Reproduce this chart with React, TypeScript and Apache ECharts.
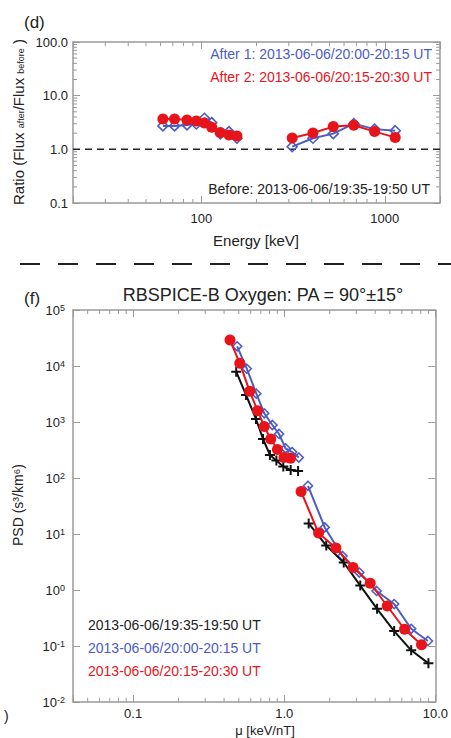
import React, { useEffect, useRef } from 'react';
import * as echarts from 'echarts';

// ---- Panel (d): flux ratio vs energy ----
const energyLow = [61.8, 71.5, 83.6, 94, 104, 114, 127, 141.6, 156.5];
const ratioAfter1Low = [2.73, 2.73, 2.85, 2.97, 3.79, 3.14, 1.94, 2.14, 1.61];
const ratioAfter2Low = [3.68, 3.68, 3.52, 3.37, 3.1, 2.58, 2.05, 1.85, 1.78];
const energyHigh = [313, 406, 524, 678, 880, 1140];
const ratioAfter1High = [1.12, 1.61, 1.96, 3.01, 2.38, 2.22];
const ratioAfter2High = [1.63, 2.02, 2.65, 2.81, 2.14, 1.67];
const ratioBeforeLevel = 1;

// ---- Panel (f): PSD vs mu ----
const muBeforeLow = [0.481, 0.559, 0.65, 0.724, 0.804, 0.887, 0.986, 1.103, 1.235];
const psdBeforeLow = [7910, 3035, 1132, 497, 258, 205, 160, 139, 133];
const muBeforeHigh = [1.451, 1.897, 2.475, 3.186, 4.115, 5.34, 6.92, 9.0];
const psdBeforeHigh = [15.4, 6.23, 3.1, 1.2, 0.461, 0.185, 0.0838, 0.049];
const muAfter1Low = [0.488, 0.565, 0.654, 0.737, 0.835, 0.924, 1.02, 1.128, 1.248];
const psdAfter1Low = [22480, 8950, 3200, 1430, 884, 611, 339, 291, 232];
const muAfter1High = [1.436, 1.854, 2.43, 3.14, 4.085, 5.34, 6.92, 8.93];
const psdAfter1High = [72.6, 13.1, 4.05, 2.05, 0.96, 0.562, 0.203, 0.123];
const muAfter2Low = [0.4375, 0.508, 0.591, 0.666, 0.737, 0.814, 0.901, 0.996, 1.1];
const psdAfter2Low = [29100, 11170, 3530, 1592, 832, 497, 323, 232, 225];
const muAfter2High = [1.292, 1.687, 2.198, 2.855, 3.705, 4.805, 6.25, 8.1];
const psdAfter2High = [57.4, 10.4, 5.62, 2.52, 1.32, 0.518, 0.199, 0.105];

// ---- minor tick values ----
const topXMinor = [30, 40, 50, 60, 70, 80, 90, 200, 300, 400, 500, 600, 700, 800, 900];
const topYMinor = [0.2, 0.3, 0.4, 0.5, 0.6, 0.7, 0.8, 0.9, 2, 3, 4, 5, 6, 7, 8, 9, 20, 30, 40, 50, 60, 70, 80, 90];
const botXMinor = [0.05, 0.06, 0.07, 0.08, 0.09, 0.2, 0.3, 0.4, 0.5, 0.6, 0.7, 0.8, 0.9, 2, 3, 4, 5, 6, 7, 8, 9];

const labelBefore = '2013-06-06/19:35-19:50 UT';
const labelAfter1 = '2013-06-06/20:00-20:15 UT';
const labelAfter2 = '2013-06-06/20:15-20:30 UT';

const BLUE = '#4b5cc4';
const RED = '#e8141c';
const BLACK = '#111111';
const FRAME = '#9a9a9a';
const TXT = '#222222';
const FONT = '"Liberation Sans", Arial, Helvetica, sans-serif';
const PLUS = 'path://M4,0H6V4H10V6H6V10H4V6H0V4H4Z';

const pairs = (xs: number[], ys: number[]) => xs.map((x, i) => [x, ys[i]]);
const isDecade = (v: number) => Math.abs(Math.log10(v) - Math.round(Math.log10(v))) < 1e-6;

function mkSeries(xs: number[], ys: number[], kind: 'red' | 'blue' | 'black', axis: number, size: number, z: number) {
  const color = kind === 'red' ? RED : kind === 'blue' ? BLUE : BLACK;
  const symbol = kind === 'red' ? 'circle' : kind === 'blue' ? 'diamond' : PLUS;
  return {
    type: 'line',
    xAxisIndex: axis,
    yAxisIndex: axis,
    data: pairs(xs, ys),
    symbol,
    symbolSize: size,
    showSymbol: true,
    lineStyle: { color, width: 2 },
    itemStyle:
      kind === 'blue'
        ? { color: 'rgba(255,255,255,0)', borderColor: color, borderWidth: 1.6 }
        : { color, borderWidth: 0 },
    z,
    silent: true,
  };
}

function minorX(values: number[], axis: number, yRef: number) {
  return {
    type: 'custom',
    xAxisIndex: axis,
    yAxisIndex: axis,
    clip: false,
    silent: true,
    data: values.map((v) => [v, yRef]),
    renderItem: (params: any, api: any) => {
      const x = api.coord([api.value(0), yRef])[0];
      const cs = params.coordSys;
      const st = { stroke: FRAME, lineWidth: 1 };
      return {
        type: 'group',
        children: [
          { type: 'line', shape: { x1: x, y1: cs.y + cs.height, x2: x, y2: cs.y + cs.height - 4 }, style: st },
          { type: 'line', shape: { x1: x, y1: cs.y, x2: x, y2: cs.y + 4 }, style: st },
        ],
      };
    },
  };
}

function minorY(values: number[], axis: number, xRef: number) {
  return {
    type: 'custom',
    xAxisIndex: axis,
    yAxisIndex: axis,
    clip: false,
    silent: true,
    data: values.map((v) => [xRef, v]),
    renderItem: (params: any, api: any) => {
      const y = api.coord([xRef, api.value(1)])[1];
      const cs = params.coordSys;
      const st = { stroke: FRAME, lineWidth: 1 };
      return {
        type: 'group',
        children: [
          { type: 'line', shape: { x1: cs.x, y1: y, x2: cs.x + 4, y2: y }, style: st },
          { type: 'line', shape: { x1: cs.x + cs.width, y1: y, x2: cs.x + cs.width - 4, y2: y }, style: st },
        ],
      };
    },
  };
}

const baseAxis = {
  type: 'log',
  logBase: 10,
  axisLine: { show: true, onZero: false, lineStyle: { color: FRAME, width: 1.5 } },
  axisTick: { show: true, inside: true, length: 7, lineStyle: { color: FRAME, width: 1 } },
  splitLine: { show: false },
  minorTick: { show: false },
};

export default function App() {
  const ref = useRef<HTMLDivElement>(null);
  useEffect(() => {
    if (!ref.current) return;
    const chart = echarts.init(ref.current, null, { renderer: 'svg' });
    const option: any = {
      animation: false,
      backgroundColor: '#ffffff',
      textStyle: { fontFamily: FONT },
      grid: [
        { left: 73, top: 42, width: 367, height: 161, containLabel: false },
        { left: 73, top: 310, width: 367, height: 392, containLabel: false },
      ],
      xAxis: [
        {
          ...baseAxis,
          gridIndex: 0,
          position: 'bottom',
          min: 20,
          max: 2000,
          axisLabel: {
            show: true,
            margin: 9,
            fontSize: 13,
            color: TXT,
            fontFamily: FONT,
            formatter: (v: number) => (isDecade(v) ? String(Math.round(v)) : ''),
          },
        },
        { ...baseAxis, gridIndex: 0, position: 'top', min: 20, max: 2000, axisLabel: { show: false } },
        {
          ...baseAxis,
          gridIndex: 1,
          position: 'bottom',
          min: 0.04,
          max: 10,
          axisLabel: {
            show: true,
            margin: 5,
            fontSize: 13,
            color: TXT,
            fontFamily: FONT,
            formatter: (v: number) => (isDecade(v) && v > 0.05 ? Number(v.toPrecision(6)).toFixed(1) : ''),
          },
        },
        { ...baseAxis, gridIndex: 1, position: 'top', min: 0.04, max: 10, axisLabel: { show: false } },
      ],
      yAxis: [
        {
          ...baseAxis,
          gridIndex: 0,
          position: 'left',
          min: 0.1,
          max: 100,
          axisLabel: {
            show: true,
            margin: 5,
            fontSize: 13,
            color: TXT,
            fontFamily: FONT,
            formatter: (v: number) => Number(v.toPrecision(6)).toFixed(1),
          },
        },
        { ...baseAxis, gridIndex: 0, position: 'right', min: 0.1, max: 100, axisLabel: { show: false } },
        {
          ...baseAxis,
          gridIndex: 1,
          position: 'left',
          min: 0.01,
          max: 100000,
          axisLabel: {
            show: true,
            margin: 8,
            color: TXT,
            fontFamily: FONT,
            formatter: (v: number) => '{b|10}{s|' + String(Math.round(Math.log10(v))) + '}',
            rich: {
              b: { fontSize: 13, fontFamily: FONT, color: TXT, verticalAlign: 'bottom', lineHeight: 14, padding: [5, 0, 0, 0] },
              s: { fontSize: 9, fontFamily: FONT, color: TXT, verticalAlign: 'top', lineHeight: 10 },
            },
          },
        },
        { ...baseAxis, gridIndex: 1, position: 'right', min: 0.01, max: 100000, axisLabel: { show: false } },
      ],
      series: [
        minorX(topXMinor, 0, 1),
        minorY(topYMinor, 0, 100),
        minorX(botXMinor, 2, 1),
        {
          type: 'line',
          xAxisIndex: 0,
          yAxisIndex: 0,
          data: [
            [20, ratioBeforeLevel],
            [2000, ratioBeforeLevel],
          ],
          symbol: 'none',
          lineStyle: { color: '#222', width: 1.5, type: [7, 5] },
          silent: true,
          z: 1,
        },
        mkSeries(energyLow, ratioAfter1Low, 'blue', 0, 10, 2),
        mkSeries(energyHigh, ratioAfter1High, 'blue', 0, 10, 2),
        mkSeries(energyLow, ratioAfter2Low, 'red', 0, 11, 3),
        mkSeries(energyHigh, ratioAfter2High, 'red', 0, 11, 3),
        mkSeries(muAfter1Low, psdAfter1Low, 'blue', 2, 9, 2),
        mkSeries(muAfter1High, psdAfter1High, 'blue', 2, 9, 2),
        mkSeries(muBeforeLow, psdBeforeLow, 'black', 2, 10, 3),
        mkSeries(muBeforeHigh, psdBeforeHigh, 'black', 2, 10, 3),
        mkSeries(muAfter2Low, psdAfter2Low, 'red', 2, 11, 4),
        mkSeries(muAfter2High, psdAfter2High, 'red', 2, 11, 4),
      ],
      graphic: [
        {
          type: 'line',
          shape: { x1: 20, y1: 264, x2: 451, y2: 264 },
          style: { stroke: '#222', lineWidth: 2, lineDash: [20, 18] },
        },
        { type: 'text', x: 24, y: 22, style: { text: '(d)', fontSize: 17, fontFamily: FONT, fill: TXT, textVerticalAlign: 'middle' } },
        { type: 'text', x: 24, y: 298, style: { text: '(f)', fontSize: 17, fontFamily: FONT, fill: TXT, textVerticalAlign: 'middle' } },
        { type: 'text', x: 4, y: 716, style: { text: ')', fontSize: 14, fontFamily: FONT, fill: TXT, textVerticalAlign: 'middle' } },
        {
          type: 'text',
          x: 263,
          y: 295,
          style: { text: 'RBSPICE-B Oxygen: PA = 90°±15°', fontSize: 18, fontFamily: FONT, fill: TXT, textAlign: 'center', textVerticalAlign: 'middle' },
        },
        {
          type: 'text',
          x: 18,
          y: 122,
          rotation: Math.PI / 2,
          style: {
            text: 'Ratio (Flux {s|after}/Flux {s|before} )',
            fontSize: 15,
            fontFamily: FONT,
            fill: TXT,
            textAlign: 'center',
            textVerticalAlign: 'middle',
            rich: { s: { fontSize: 9, fontFamily: FONT, fill: TXT, verticalAlign: 'bottom' } },
          },
        },
        {
          type: 'text',
          x: 256,
          y: 240,
          style: { text: 'Energy [keV]', fontSize: 15, fontFamily: FONT, fill: TXT, textAlign: 'center', textVerticalAlign: 'middle' },
        },
        {
          type: 'text',
          x: 18,
          y: 505,
          rotation: Math.PI / 2,
          style: { text: 'PSD (s³/km⁶)', fontSize: 14, fontFamily: FONT, fill: TXT, textAlign: 'center', textVerticalAlign: 'middle' },
        },
        {
          type: 'text',
          x: 265,
          y: 730.5,
          style: { text: 'μ [keV/nT]', fontSize: 13, fontFamily: FONT, fill: TXT, textAlign: 'center', textVerticalAlign: 'middle' },
        },
        {
          type: 'text',
          x: 432,
          y: 54,
          style: { text: 'After 1: ' + labelAfter1, fontSize: 14, fontFamily: FONT, fill: BLUE, textAlign: 'right', textVerticalAlign: 'middle' },
        },
        {
          type: 'text',
          x: 432,
          y: 77,
          style: { text: 'After 2: ' + labelAfter2, fontSize: 14, fontFamily: FONT, fill: RED, textAlign: 'right', textVerticalAlign: 'middle' },
        },
        {
          type: 'text',
          x: 430,
          y: 189,
          style: { text: 'Before: ' + labelBefore, fontSize: 14, fontFamily: FONT, fill: TXT, textAlign: 'right', textVerticalAlign: 'middle' },
        },
        {
          type: 'text',
          x: 88,
          y: 625,
          style: { text: labelBefore, fontSize: 14, fontFamily: FONT, fill: TXT, textAlign: 'left', textVerticalAlign: 'middle' },
        },
        {
          type: 'text',
          x: 88,
          y: 648,
          style: { text: labelAfter1, fontSize: 14, fontFamily: FONT, fill: BLUE, textAlign: 'left', textVerticalAlign: 'middle' },
        },
        {
          type: 'text',
          x: 88,
          y: 671,
          style: { text: labelAfter2, fontSize: 14, fontFamily: FONT, fill: RED, textAlign: 'left', textVerticalAlign: 'middle' },
        },
      ],
    };
    chart.setOption(option);
    return () => chart.dispose();
  }, []);
  return (
    <div
      ref={ref}
      style={{ position: 'fixed', left: 0, top: 0, width: 451, height: 738, background: '#fff' }}
    />
  );
}
